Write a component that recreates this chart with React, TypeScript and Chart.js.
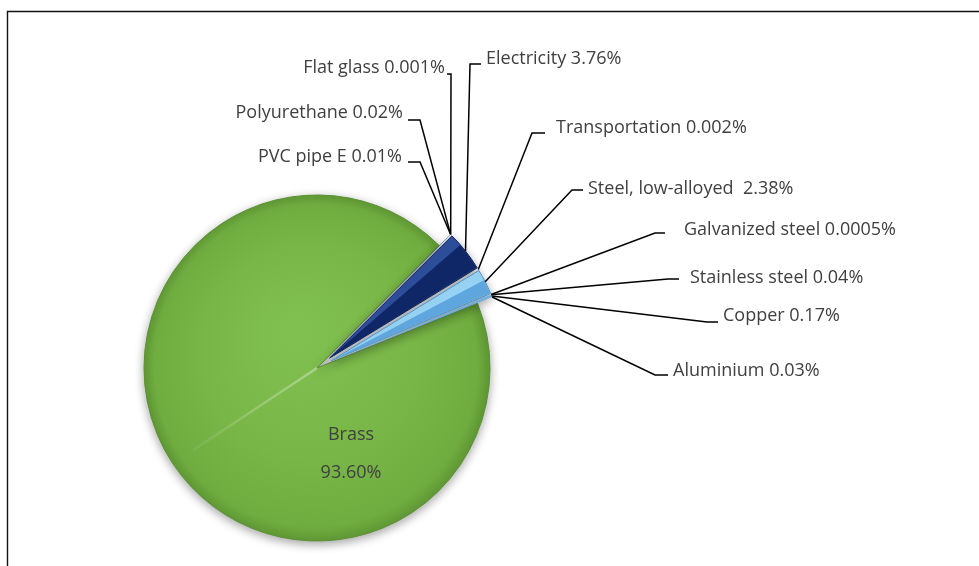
import React, { useEffect, useRef } from 'react';
import { Chart, registerables } from 'chart.js';

Chart.register(...registerables);

// ---------- data ----------
const categories = [
  'Brass',
  'PVC pipe E',
  'Polyurethane',
  'Flat glass',
  'Electricity',
  'Transportation',
  'Steel, low-alloyed ',
  'Galvanized steel',
  'Stainless steel',
  'Copper',
  'Aluminium',
];
const percentages = [93.6, 0.01, 0.02, 0.001, 3.76, 0.002, 2.38, 0.0005, 0.04, 0.17, 0.03];
const percentLabels = ['93.60%', '0.01%', '0.02%', '0.001%', '3.76%', '0.002%', '2.38%', '0.0005%', '0.04%', '0.17%', '0.03%'];

// ---------- styles / layout ----------
const fillColors = ['#78b547', '#1e3f8c', '#1e3f8c', '#1e3f8c', '#2e4f9c', '#2c4f9f', '#9ad7f8', '#6aaee0', '#6aaee0', '#6aaee0', '#6aaee0'];
const borderColors = ['#5b9233', '#0e2463', '#0e2463', '#0e2463', '#0e2463', '#0e2463', '#4f93c9', '#4f93c9', '#4f93c9', '#4f93c9', '#4f93c9'];
const borderWidths = [1, 0, 0, 0, 1, 0, 1, 0, 0, 0, 0];
const explode = [0, 16, 16, 16, 16, 16, 16, 16, 16, 16, 16];
const darkFacet: Record<number, { color: string; split: number }> = {
  4: { color: '#0f2766', split: 0.3 },
  6: { color: '#5ea6dd', split: 0.42 },
};

type LabelPos = { align: 'left' | 'right'; tx: number; ty: number; ex: number; sx: number; ey: number } | null;
const labelLayout: LabelPos[] = [
  null,
  { align: 'right', tx: 402, ty: 157, ex: 420, sx: 408, ey: 162 },
  { align: 'right', tx: 403, ty: 113, ex: 420, sx: 408, ey: 120 },
  { align: 'right', tx: 445, ty: 68, ex: 451, sx: 447, ey: 74 },
  { align: 'left', tx: 486, ty: 59, ex: 470, sx: 481, ey: 64 },
  { align: 'left', tx: 556, ty: 128, ex: 532, sx: 545, ey: 133 },
  { align: 'left', tx: 588, ty: 189, ex: 572, sx: 583, ey: 190 },
  { align: 'left', tx: 684, ty: 230, ex: 655, sx: 665, ey: 233 },
  { align: 'left', tx: 690, ty: 278, ex: 668, sx: 679, ey: 279 },
  { align: 'left', tx: 723, ty: 316, ex: 707, sx: 718, ey: 322 },
  { align: 'left', tx: 673, ty: 371, ex: 655, sx: 668, ey: 375 },
];
const insideLabelOffset = { dx: 34, dy1: 67, dy2: 105 };
const FONT = '18px "Open Sans"';
const TEXT_COLOR = '#404040';

const pieDecor = {
  id: 'pieDecor',
  beforeDraw(chart: any) {
    const ctx = chart.ctx;
    ctx.save();
    ctx.fillStyle = '#ffffff';
    ctx.fillRect(0, 0, chart.width, chart.height);
    ctx.strokeStyle = '#111';
    ctx.lineWidth = 1.4;
    ctx.beginPath();
    ctx.moveTo(7.5, chart.height);
    ctx.lineTo(7.5, 11.5);
    ctx.lineTo(chart.width, 11.5);
    ctx.stroke();
    ctx.restore();
  },
  beforeDatasetsDraw(chart: any) {
    const meta = chart.getDatasetMeta(0);
    chart.$savedPos = meta.data.map((a: any) => ({ x: a.x, y: a.y }));
    meta.data.forEach((a: any, i: number) => {
      const d = explode[i] || 0;
      if (d) {
        const m = (a.startAngle + a.endAngle) / 2;
        a.x += d * Math.cos(m);
        a.y += d * Math.sin(m);
      }
    });
    const ctx = chart.ctx;
    ctx.save();
    ctx.shadowColor = 'rgba(0,0,0,0.35)';
    ctx.shadowBlur = 10;
    ctx.shadowOffsetY = 3;
  },
  afterDatasetsDraw(chart: any) {
    const ctx = chart.ctx;
    ctx.restore();
    const meta = chart.getDatasetMeta(0);
    const arcs = meta.data;

    // facets (bevel look)
    arcs.forEach((a: any, i: number) => {
      const m = (a.startAngle + a.endAngle) / 2;
      const R = a.outerRadius;
      const f = darkFacet[i];
      if (f) {
        const s = a.startAngle + (a.endAngle - a.startAngle) * f.split;
        ctx.save();
        ctx.beginPath();
        ctx.moveTo(a.x, a.y);
        ctx.arc(a.x, a.y, R - 0.5, s, a.endAngle - 0.004);
        ctx.closePath();
        ctx.fillStyle = f.color;
        ctx.fill();
        ctx.restore();
      }
      if (i === 0) {
        ctx.save();
        const ex = a.x + R * 0.86 * Math.cos(m);
        const ey = a.y + R * 0.86 * Math.sin(m);
        const g = ctx.createLinearGradient(a.x, a.y, ex, ey);
        g.addColorStop(0, 'rgba(255,255,255,0.35)');
        g.addColorStop(1, 'rgba(255,255,255,0.05)');
        ctx.strokeStyle = g;
        ctx.lineWidth = 2.5;
        ctx.beginPath();
        ctx.moveTo(a.x, a.y);
        ctx.lineTo(ex, ey);
        ctx.stroke();
        ctx.restore();
      }
    });

    // leader lines + labels
    ctx.save();
    ctx.font = FONT;
    ctx.textBaseline = 'middle';
    ctx.fillStyle = TEXT_COLOR;
    arcs.forEach((a: any, i: number) => {
      const L = labelLayout[i];
      const m = (a.startAngle + a.endAngle) / 2;
      const R = a.outerRadius;
      const text = categories[i] + ' ' + percentLabels[i];
      if (!L) {
        const cx = chart.$savedPos[i].x;
        const cy = chart.$savedPos[i].y;
        ctx.textAlign = 'center';
        ctx.fillText(categories[i], cx + insideLabelOffset.dx, cy + insideLabelOffset.dy1);
        ctx.fillText(percentLabels[i], cx + insideLabelOffset.dx, cy + insideLabelOffset.dy2);
        return;
      }
      const ax = a.x + R * Math.cos(m);
      const ay = a.y + R * Math.sin(m);
      ctx.strokeStyle = '#000';
      ctx.lineWidth = 1.5;
      ctx.beginPath();
      ctx.moveTo(ax, ay);
      ctx.lineTo(L.ex, L.ey);
      ctx.lineTo(L.sx, L.ey);
      ctx.stroke();
      ctx.textAlign = L.align;
      ctx.fillText(text, L.tx, L.ty);
    });
    ctx.restore();

    // restore positions
    arcs.forEach((a: any, i: number) => {
      a.x = chart.$savedPos[i].x;
      a.y = chart.$savedPos[i].y;
    });
  },
};

export default function App() {
  const canvasRef = useRef<HTMLCanvasElement | null>(null);

  useEffect(() => {
    document.body.style.margin = '0';
    const canvas = canvasRef.current;
    if (!canvas) return;
    const chart = new Chart(canvas, {
      type: 'pie',
      data: {
        labels: categories,
        datasets: [
          {
            data: percentages,
            backgroundColor: (c: any) => {
              const i = c.dataIndex;
              if (i === 0 && c.chart.chartArea) {
                const area = c.chart.chartArea;
                const cx = (area.left + area.right) / 2;
                const cy = (area.top + area.bottom) / 2;
                const g = c.chart.ctx.createRadialGradient(cx - 20, cy - 40, 5, cx, cy, 175);
                g.addColorStop(0, '#80c051');
                g.addColorStop(0.6, '#79b648');
                g.addColorStop(0.92, '#70ad40');
                g.addColorStop(1, '#5f9834');
                return g;
              }
              return fillColors[i];
            },
            borderColor: borderColors,
            borderWidth: borderWidths,
          },
        ],
      },
      options: {
        animation: false,
        responsive: false,
        rotation: 68,
        radius: 173,
        layout: { padding: { left: 0, right: 345, top: 170, bottom: 0 } },
        plugins: {
          legend: { display: false },
          tooltip: { enabled: false },
        },
        events: [],
      } as any,
      plugins: [pieDecor],
    });
    return () => chart.destroy();
  }, []);

  return (
    <div style={{ position: 'fixed', left: 0, top: 0, width: 979, height: 566, background: '#fff' }}>
      <canvas ref={canvasRef} width={979} height={566} style={{ display: 'block', width: 979, height: 566 }} />
    </div>
  );
}
